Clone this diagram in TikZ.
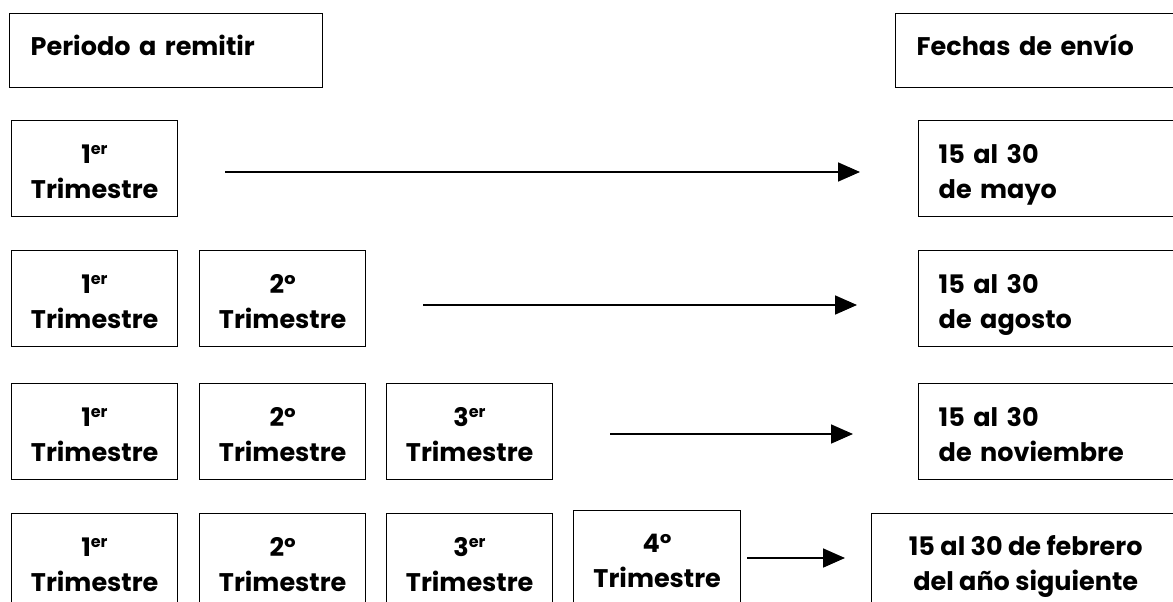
\documentclass[tikz,border=0pt]{standalone}
\usepackage{fontspec}
\setmainfont{Poppins}
\usetikzlibrary{arrows.meta}
\begin{document}
\begin{tikzpicture}[x=1pt,y=-1pt,
  txt/.style={font=\fontsize{25.5}{35}\selectfont\bfseries},
  box/.style={draw,line width=1.4pt,anchor=north west,inner sep=0pt,txt},
  tri/.style={box,minimum width=166pt,minimum height=96pt,align=center,text height=62pt,text depth=2pt},
  datel/.style={box,minimum height=96pt,text width=221pt,inner xsep=20pt,align=left,text height=31pt,text depth=41pt},
  head/.style={box,minimum height=74pt,inner xsep=21pt,align=left,text height=18pt,text depth=8pt},
  arr/.style={line width=1.8pt,-{Triangle[length=22pt,width=19pt]}}]
\useasboundingbox (0,0) rectangle (1173,602);
\clip (0,0) rectangle (1173,602);
\fill[white] (0,0) rectangle (1173,602);
\newcommand{\er}{\textsuperscript{\fontsize{16}{16}\selectfont er}}
% headers
\node[head,text width=271pt] (h1) at (9,13) {Periodo a remitir};
\node[head,text width=240pt] (h2) at (895,13) {Fechas de envío};
% row 1
\node[tri] (a1) at (11,120) {1\er\\Trimestre};
\node[datel] (d1) at (918,120) {15 al 30\\de mayo};
\coordinate (s1) at (225,172);
\coordinate (e1) at (860,172);
\draw[arr] (s1) -- (e1);
% row 2
\node[tri] (a2) at (11,250) {1\er\\Trimestre};
\node[tri] (b2) at (199,250) {2º\\Trimestre};
\node[datel] (d2) at (918,250) {15 al 30\\de agosto};
\coordinate (s2) at (423,305);
\coordinate (e2) at (857,305);
\draw[arr] (s2) -- (e2);
% row 3
\node[tri] (a3) at (11,383) {1\er\\Trimestre};
\node[tri] (b3) at (199,383) {2º\\Trimestre};
\node[tri] (c3) at (386,383) {3\er\\Trimestre};
\node[datel] (d3) at (918,383) {15 al 30\\de noviembre};
\coordinate (s3) at (610,434);
\coordinate (e3) at (853,434);
\draw[arr] (s3) -- (e3);
% row 4
\node[tri] (a4) at (11,513) {1\er\\Trimestre};
\node[tri] (b4) at (199,513) {2º\\Trimestre};
\node[tri] (c4) at (386,513) {3\er\\Trimestre};
\node[tri,minimum width=167pt,text height=60pt] (f4) at (573,510) {4º\\Trimestre};
\node[box,minimum width=308pt,minimum height=96pt,align=center,text height=60pt,text depth=2pt] (d4) at (871,513) {15 al 30 de febrero\\del año siguiente};
\coordinate (s4) at (747,558);
\coordinate (e4) at (845,558);
\draw[arr] (s4) -- (e4);
\end{tikzpicture}
\end{document}
